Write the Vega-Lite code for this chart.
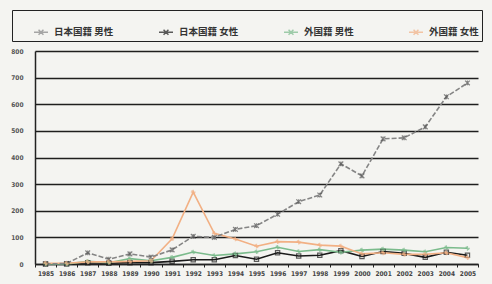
{
  "$schema": "https://vega.github.io/schema/vega-lite/v6.json",
  "autosize": "none",
  "width": 443,
  "height": 213,
  "padding": {"left": 35, "top": 51, "right": 14, "bottom": 20},
  "background": "#f4f4f1",
  "datasets": {
    "d": [
      {"series": "日本国籍 男性", "year": "1985", "value": 0},
      {"series": "日本国籍 男性", "year": "1986", "value": 2},
      {"series": "日本国籍 男性", "year": "1987", "value": 42},
      {"series": "日本国籍 男性", "year": "1988", "value": 18},
      {"series": "日本国籍 男性", "year": "1989", "value": 38},
      {"series": "日本国籍 男性", "year": "1990", "value": 26},
      {"series": "日本国籍 男性", "year": "1991", "value": 53},
      {"series": "日本国籍 男性", "year": "1992", "value": 104},
      {"series": "日本国籍 男性", "year": "1993", "value": 100},
      {"series": "日本国籍 男性", "year": "1994", "value": 130},
      {"series": "日本国籍 男性", "year": "1995", "value": 144},
      {"series": "日本国籍 男性", "year": "1996", "value": 187},
      {"series": "日本国籍 男性", "year": "1997", "value": 234},
      {"series": "日本国籍 男性", "year": "1998", "value": 259},
      {"series": "日本国籍 男性", "year": "1999", "value": 376},
      {"series": "日本国籍 男性", "year": "2000", "value": 331},
      {"series": "日本国籍 男性", "year": "2001", "value": 470},
      {"series": "日本国籍 男性", "year": "2002", "value": 474},
      {"series": "日本国籍 男性", "year": "2003", "value": 515},
      {"series": "日本国籍 男性", "year": "2004", "value": 628},
      {"series": "日本国籍 男性", "year": "2005", "value": 680},
      {"series": "日本国籍 女性", "year": "1985", "value": 0},
      {"series": "日本国籍 女性", "year": "1986", "value": 0},
      {"series": "日本国籍 女性", "year": "1987", "value": 5},
      {"series": "日本国籍 女性", "year": "1988", "value": 3},
      {"series": "日本国籍 女性", "year": "1989", "value": 5},
      {"series": "日本国籍 女性", "year": "1990", "value": 5},
      {"series": "日本国籍 女性", "year": "1991", "value": 10},
      {"series": "日本国籍 女性", "year": "1992", "value": 16},
      {"series": "日本国籍 女性", "year": "1993", "value": 16},
      {"series": "日本国籍 女性", "year": "1994", "value": 32},
      {"series": "日本国籍 女性", "year": "1995", "value": 18},
      {"series": "日本国籍 女性", "year": "1996", "value": 42},
      {"series": "日本国籍 女性", "year": "1997", "value": 30},
      {"series": "日本国籍 女性", "year": "1998", "value": 33},
      {"series": "日本国籍 女性", "year": "1999", "value": 50},
      {"series": "日本国籍 女性", "year": "2000", "value": 28},
      {"series": "日本国籍 女性", "year": "2001", "value": 47},
      {"series": "日本国籍 女性", "year": "2002", "value": 40},
      {"series": "日本国籍 女性", "year": "2003", "value": 25},
      {"series": "日本国籍 女性", "year": "2004", "value": 44},
      {"series": "日本国籍 女性", "year": "2005", "value": 33},
      {"series": "外国籍 男性", "year": "1985", "value": 0},
      {"series": "外国籍 男性", "year": "1986", "value": 0},
      {"series": "外国籍 男性", "year": "1987", "value": 10},
      {"series": "外国籍 男性", "year": "1988", "value": 5},
      {"series": "外国籍 男性", "year": "1989", "value": 20},
      {"series": "外国籍 男性", "year": "1990", "value": 12},
      {"series": "外国籍 男性", "year": "1991", "value": 25},
      {"series": "外国籍 男性", "year": "1992", "value": 45},
      {"series": "外国籍 男性", "year": "1993", "value": 32},
      {"series": "外国籍 男性", "year": "1994", "value": 38},
      {"series": "外国籍 男性", "year": "1995", "value": 46},
      {"series": "外国籍 男性", "year": "1996", "value": 63},
      {"series": "外国籍 男性", "year": "1997", "value": 47},
      {"series": "外国籍 男性", "year": "1998", "value": 54},
      {"series": "外国籍 男性", "year": "1999", "value": 44},
      {"series": "外国籍 男性", "year": "2000", "value": 52},
      {"series": "外国籍 男性", "year": "2001", "value": 56},
      {"series": "外国籍 男性", "year": "2002", "value": 52},
      {"series": "外国籍 男性", "year": "2003", "value": 46},
      {"series": "外国籍 男性", "year": "2004", "value": 62},
      {"series": "外国籍 男性", "year": "2005", "value": 59},
      {"series": "外国籍 女性", "year": "1985", "value": 3},
      {"series": "外国籍 女性", "year": "1986", "value": 3},
      {"series": "外国籍 女性", "year": "1987", "value": 8},
      {"series": "外国籍 女性", "year": "1988", "value": 8},
      {"series": "外国籍 女性", "year": "1989", "value": 10},
      {"series": "外国籍 女性", "year": "1990", "value": 12},
      {"series": "外国籍 女性", "year": "1991", "value": 95},
      {"series": "外国籍 女性", "year": "1992", "value": 270},
      {"series": "外国籍 女性", "year": "1993", "value": 115},
      {"series": "外国籍 女性", "year": "1994", "value": 94},
      {"series": "外国籍 女性", "year": "1995", "value": 67},
      {"series": "外国籍 女性", "year": "1996", "value": 84},
      {"series": "外国籍 女性", "year": "1997", "value": 82},
      {"series": "外国籍 女性", "year": "1998", "value": 71},
      {"series": "外国籍 女性", "year": "1999", "value": 67},
      {"series": "外国籍 女性", "year": "2000", "value": 38},
      {"series": "外国籍 女性", "year": "2001", "value": 42},
      {"series": "外国籍 女性", "year": "2002", "value": 36},
      {"series": "外国籍 女性", "year": "2003", "value": 36},
      {"series": "外国籍 女性", "year": "2004", "value": 42},
      {"series": "外国籍 女性", "year": "2005", "value": 24}
    ]
  },
  "data": {"name": "d"},
  "encoding": {
    "x": {
      "field": "year", "type": "ordinal", "title": null,
      "scale": {"type": "band", "paddingInner": 0, "paddingOuter": 0},
      "axis": {
        "labelAngle": 0, "labelFontSize": 6.5, "labelFont": "DejaVu Sans Condensed", "labelFontWeight": "bold",
        "labelColor": "#444", "labelPadding": 3, "tickBand": "extent", "tickSize": 3,
        "tickColor": "#222", "tickWidth": 1, "domainColor": "#222", "domainWidth": 1.5, "grid": false
      }
    },
    "y": {
      "field": "value", "type": "quantitative", "title": null,
      "scale": {"domain": [0, 800], "nice": false},
      "axis": {
        "values": [0, 100, 200, 300, 400, 500, 600, 700, 800],
        "labelFontSize": 6.5, "labelFont": "DejaVu Sans Condensed", "labelFontWeight": "bold", "labelColor": "#555",
        "labelPadding": 12, "ticks": false, "grid": true, "gridColor": "#1e1e1e", "gridWidth": 1.4,
        "domainColor": "#222", "domainWidth": 1.5
      }
    },
    "color": {
      "field": "series", "type": "nominal",
      "sort": ["日本国籍 男性", "日本国籍 女性", "外国籍 男性", "外国籍 女性"],
      "scale": {
        "domain": ["日本国籍 男性", "日本国籍 女性", "外国籍 男性", "外国籍 女性"],
        "range": ["#858585", "#1a1a1a", "#7bbb8c", "#f2b084"]
      },
      "legend": {
        "orient": "none",
        "legendX": -23,
        "legendY": -41,
        "direction": "horizontal",
        "columns": 4,
        "gridAlign": "all",
        "columnPadding": 26,
        "padding": 3,
        "strokeColor": "#222",
        "title": " ",
        "titleFontSize": 9,
        "titlePadding": 2,
        "symbolType": "M-1,0H1M-0.35,-0.35L0.35,0.35M-0.35,0.35L0.35,-0.35",
        "symbolSize": 196,
        "symbolStrokeWidth": 1.5,
        "symbolOffset": 18,
        "labelOffset": 5,
        "labelFont": "Noto Sans CJK JP",
        "labelFontWeight": "bold",
        "labelFontSize": 9.5,
        "labelColor": "#333",
        "labelLimit": 200
      }
    }
  },
  "layer": [
    {
      "transform": [{"filter": "datum.series !== '日本国籍 男性'"}],
      "mark": {"type": "line", "strokeWidth": 1.6}
    },
    {
      "transform": [{"filter": "datum.series === '日本国籍 男性'"}],
      "mark": {"type": "line", "strokeWidth": 1.6, "strokeDash": [5, 2]}
    },
    {
      "transform": [{"filter": "datum.series === '日本国籍 男性'"}],
      "mark": {"type": "point", "filled": false, "strokeWidth": 1.2, "size": 22, "shape": "M-1,-1L1,1M-1,1L1,-1M0,-1V1", "stroke": "#555"}
    },
    {
      "transform": [{"filter": "datum.series === '日本国籍 女性'"}],
      "mark": {"type": "point", "filled": false, "strokeWidth": 1.2, "size": 18, "shape": "square"}
    },
    {
      "transform": [{"filter": "datum.series === '外国籍 男性' || datum.series === '外国籍 女性'"}],
      "mark": {"type": "point", "filled": false, "strokeWidth": 1.2, "size": 22, "shape": "M-1,0H1M0,-1V1M-0.7,-0.7L0.7,0.7"}
    }
  ],
  "config": {"view": {"stroke": null}}
}
